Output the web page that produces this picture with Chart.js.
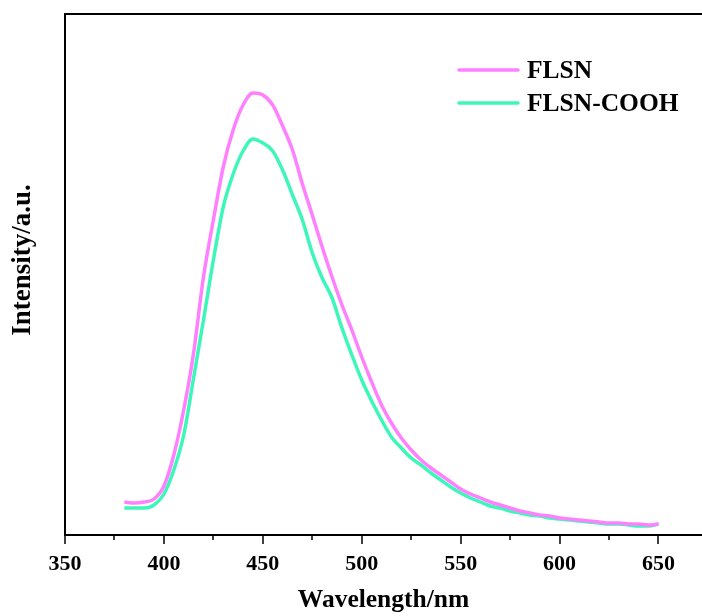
<!DOCTYPE html>
<html>
<head>
<meta charset="utf-8">
<script src="https://cdn.jsdelivr.net/npm/chart.js@4/dist/chart.umd.min.js"></script>
<style>
html,body{margin:0;padding:0;background:#fff;overflow:hidden;}
#wrap{width:702px;height:616px;position:relative;}
</style>
</head>
<body>
<div id="wrap"><canvas id="c" width="702" height="616"></canvas></div>
<script>
const wavelengths = [380,385,390,395,400,405,410,415,420,425,430,435,440,445,450,455,460,465,470,475,480,485,490,495,500,505,510,515,520,525,530,535,540,545,550,555,560,565,570,575,580,585,590,595,600,605,610,615,620,625,630,635,640,645,650];
const flsn = [33,32,33,36,49,80,125,182,258,315,368,405,430,442,440,430,409,385,351,320,288,258,230,205,178,153,130,112,97,85,75,67,60,53,46,41,37,33,30,27,24,22,20,19,17,16,15,14,13,12,12,11,11,10,11];
const flsnCooh = [27,27,27,30,41,65,100,157,215,275,328,361,384,396,392,384,365,340,315,282,257,237,207,180,155,134,115,98,87,77,70,62,55,48,42,37,33,29,27,24,22,20,19,17,16,15,14,13,12,11,11,10,9,9,11];
const seriesNames = ["FLSN","FLSN-COOH"];
const seriesColors = ["#ff80ff","#3cf7b9"];
const xTickLabels = [350,400,450,500,550,600,650];
const xMinorTicks = [375,425,475,525,575,625];

const FONT = '"Liberation Serif","Times New Roman",serif';

const framePlugin = {
  id: 'frame',
  afterDraw(chart) {
    const ctx = chart.ctx;
    const a = chart.chartArea;
    const xs = chart.scales.x;
    ctx.save();
    ctx.strokeStyle = '#000';
    ctx.lineWidth = 2;
    ctx.beginPath();
    ctx.moveTo(a.left, a.bottom);
    ctx.lineTo(a.left, a.top);
    ctx.lineTo(a.right + 5, a.top);
    ctx.moveTo(a.left - 1, a.bottom);
    ctx.lineTo(a.right + 5, a.bottom);
    ctx.stroke();
    ctx.lineWidth = 1.5;
    ctx.beginPath();
    xTickLabels.forEach(v => { const p = Math.round(xs.getPixelForValue(v)); ctx.moveTo(p, a.bottom); ctx.lineTo(p, a.bottom + 9); });
    xMinorTicks.forEach(v => { const p = Math.round(xs.getPixelForValue(v)); ctx.moveTo(p, a.bottom); ctx.lineTo(p, a.bottom + 5); });
    ctx.stroke();
    // y title
    ctx.fillStyle = '#000';
    ctx.font = 'bold 27px ' + FONT;
    ctx.textAlign = 'center';
    ctx.textBaseline = 'middle';
    ctx.translate(23, 260);
    ctx.rotate(-Math.PI / 2);
    ctx.fillText('Intensity/a.u.', 0, 0);
    ctx.restore();
    // legend
    ctx.save();
    ctx.font = 'bold 25.5px ' + FONT;
    ctx.textAlign = 'left';
    ctx.textBaseline = 'middle';
    chart.data.datasets.forEach((ds, i) => {
      const y = 70 + i * 33;
      ctx.strokeStyle = ds.borderColor;
      ctx.lineWidth = 3.5;
      ctx.lineCap = 'round';
      ctx.beginPath();
      ctx.moveTo(459, y);
      ctx.lineTo(518, y);
      ctx.stroke();
      ctx.fillStyle = '#000';
      ctx.fillText(ds.label, 527, y + 1);
    });
    ctx.restore();
  }
};

new Chart(document.getElementById('c'), {
  type: 'line',
  data: {
    datasets: [
      { label: seriesNames[0], data: wavelengths.map((w, i) => ({x: w, y: flsn[i]})), borderColor: seriesColors[0], borderWidth: 3.5, pointRadius: 0, cubicInterpolationMode: 'monotone', fill: false },
      { label: seriesNames[1], data: wavelengths.map((w, i) => ({x: w, y: flsnCooh[i]})), borderColor: seriesColors[1], borderWidth: 3.5, pointRadius: 0, cubicInterpolationMode: 'monotone', fill: false }
    ]
  },
  options: {
    responsive: false,
    animation: false,
    events: [],
    layout: { padding: { top: 14, right: 0, left: 0, bottom: 0 } },
    plugins: { legend: { display: false }, tooltip: { enabled: false } },
    scales: {
      x: {
        type: 'linear',
        min: 350,
        max: 672,
        border: { display: false },
        grid: { display: false, drawTicks: false },
        afterBuildTicks: s => { s.ticks = xTickLabels.map(v => ({ value: v })); },
        afterFit: s => { s.height = 81; },
        ticks: { padding: 16, color: '#000', font: { family: FONT, size: 22, weight: 'bold' }, maxRotation: 0, autoSkip: false },
        title: { display: true, text: 'Wavelength/nm', color: '#000', font: { family: FONT, size: 25.5, weight: 'bold' }, padding: { top: 0, bottom: 0 } }
      },
      y: {
        type: 'linear',
        min: 0,
        max: 521,
        border: { display: false },
        grid: { display: false, drawTicks: false },
        ticks: { display: false },
        afterFit: s => { s.width = 65; }
      }
    }
  },
  plugins: [framePlugin]
});
</script>
</body>
</html>
